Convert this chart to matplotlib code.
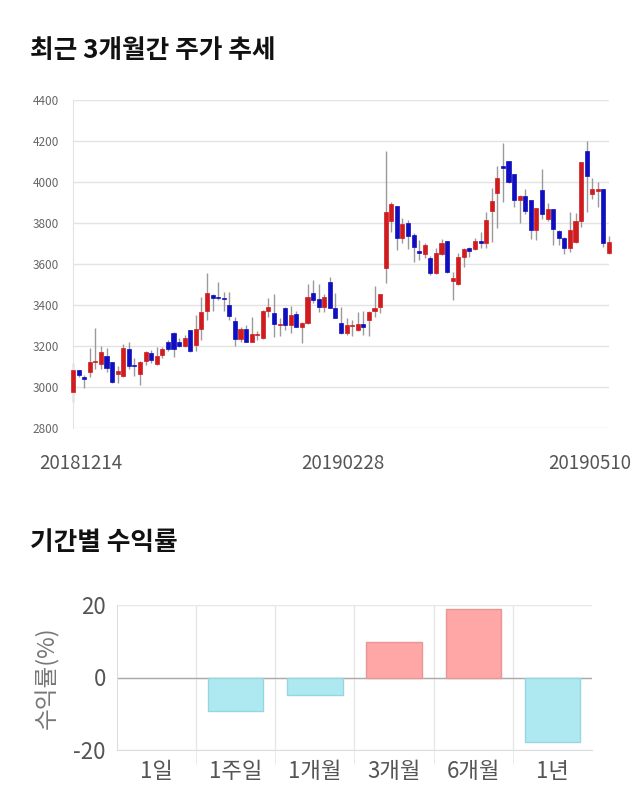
import matplotlib
matplotlib.use("Agg")
import matplotlib.pyplot as plt
import matplotlib.transforms as mtransforms

plt.rcParams['font.family'] = ['Noto Sans CJK KR', 'DejaVu Sans']
plt.rcParams['axes.unicode_minus'] = False

# ===============================
# Dados
# ===============================

opens = [2977, 3083, 3047, 3075, 3120, 3110, 3150, 3120, 3062, 3055,
         3185, 3102, 3062, 3127, 3164, 3111, 3155, 3221, 3262, 3221,
         3200, 3278, 3205, 3281, 3371, 3449, 3437, 3435, 3400, 3322,
         3233, 3283, 3221, 3252, 3237, 3371, 3363, 3300, 3387, 3302,
         3356, 3294, 3311, 3457, 3428, 3389, 3511, 3384, 3311, 3262,
         3296, 3278, 3306, 3327, 3372, 3392, 3579, 3811, 3883, 3725,
         3802, 3741, 3660, 3647, 3628, 3554, 3649, 3712, 3519, 3501,
         3636, 3677, 3672, 3712, 3701, 3860, 3945, 4080, 4102, 4039,
         3912, 3932, 3912, 3766, 3961, 3818, 3867, 3761, 3725, 3676,
         3709, 3810, 4151, 3940, 3958, 3966, 3655]
highs = [3115, 3085, 3059, 3190, 3290, 3200, 3190, 3120, 3102, 3210,
         3218, 3140, 3128, 3176, 3180, 3197, 3197, 3230, 3267, 3238,
         3254, 3280, 3351, 3437, 3558, 3452, 3511, 3465, 3465, 3343,
         3291, 3302, 3340, 3275, 3375, 3433, 3454, 3338, 3392, 3397,
         3369, 3315, 3502, 3522, 3500, 3452, 3535, 3457, 3389, 3338,
         3327, 3364, 3372, 3369, 3493, 3452, 4151, 3901, 3883, 3823,
         3815, 3750, 3717, 3701, 3639, 3676, 3720, 3712, 3563, 3656,
         3677, 3685, 3725, 3758, 3852, 3969, 4080, 4192, 4102, 4039,
         3935, 3966, 3912, 3875, 4062, 3896, 3870, 3766, 3733, 3852,
         3850, 4099, 4202, 4018, 4002, 3966, 3738]
lows = [2928, 3050, 2997, 3050, 3090, 3090, 3075, 3020, 3018, 3047,
        3090, 3055, 3010, 3107, 3115, 3106, 3140, 3177, 3148, 3197,
        3197, 3172, 3177, 3229, 3327, 3372, 3425, 3372, 3327, 3200,
        3221, 3218, 3218, 3230, 3234, 3343, 3246, 3249, 3278, 3262,
        3291, 3213, 3307, 3408, 3367, 3367, 3384, 3335, 3259, 3254,
        3251, 3275, 3254, 3251, 3343, 3363, 3506, 3758, 3668, 3704,
        3672, 3611, 3620, 3628, 3546, 3551, 3644, 3557, 3424, 3498,
        3587, 3636, 3669, 3677, 3677, 3709, 3777, 3901, 3994, 3876,
        3798, 3844, 3720, 3717, 3818, 3810, 3693, 3693, 3649, 3660,
        3701, 3782, 3852, 3915, 3876, 3681, 3649]
closes = [3083, 3060, 3041, 3120, 3125, 3170, 3095, 3025, 3078, 3192,
          3102, 3100, 3124, 3169, 3132, 3153, 3184, 3185, 3185, 3200,
          3241, 3176, 3283, 3367, 3457, 3436, 3435, 3430, 3348, 3233,
          3283, 3221, 3257, 3256, 3372, 3392, 3306, 3304, 3302, 3351,
          3294, 3311, 3437, 3424, 3392, 3441, 3386, 3338, 3262, 3301,
          3300, 3306, 3291, 3364, 3384, 3452, 3852, 3893, 3725, 3795,
          3738, 3685, 3656, 3693, 3554, 3652, 3701, 3562, 3533, 3633,
          3672, 3665, 3712, 3701, 3815, 3907, 4018, 4070, 4002, 3912,
          3932, 3860, 3766, 3872, 3842, 3867, 3769, 3725, 3676, 3766,
          3811, 4099, 4031, 3966, 3966, 3701, 3709]

date_idx = [0, 48, 96]
date_labels = ["20181214", "20190228", "20190510"]

periods = ["1일", "1주일", "1개월", "3개월", "6개월", "1년"]
returns = [0.0, -9.2, -4.8, 9.7, 18.8, -17.7]

# ===============================
# Figura
# ===============================

fig = plt.figure(figsize=(6.4, 8.1), dpi=100)

fig.text(30/640, 1 - 50/810, "최근 3개월간 주가 추세", fontsize=18.5,
         fontweight="bold", va="center", color="#111111")
fig.text(30/640, 1 - 542/810, "기간별 수익률", fontsize=18.5,
         fontweight="bold", va="center", color="#111111")

# --- candles ---
ax1 = fig.add_axes([73/640, 1 - 428/810, 536/640, 328/810])
red = "#d01c1f"
blue = "#0f0fc0"
x = list(range(len(opens)))
ax1.vlines(x, lows, highs, color="#9a9a9a", linewidth=1, zorder=2, clip_on=False)
bottoms = [min(o, c) for o, c in zip(opens, closes)]
heights = [max(abs(c - o), 6) for o, c in zip(opens, closes)]
colors = [red if c >= o else blue for o, c in zip(opens, closes)]
ax1.bar(x, heights, bottom=bottoms, width=0.72, color=colors,
        edgecolor=colors, linewidth=0.5, zorder=3, clip_on=False)

ax1.set_xlim(0, 96)
ax1.set_ylim(2800, 4400)
ax1.set_yticks(range(2800, 4401, 200))
ax1.grid(axis="y", color="#e3e3e3", linewidth=1)
ax1.set_axisbelow(True)
for s in ["top", "right", "bottom"]:
    ax1.spines[s].set_visible(False)
ax1.spines["left"].set_color("#e3e3e3")
ax1.tick_params(axis="y", length=0, pad=10, labelsize=8.5, labelcolor="#666666")
ax1.tick_params(axis="x", length=0, pad=18, labelsize=13.5, labelcolor="#555555")
ax1.set_xticks(date_idx)
ax1.set_xticklabels(date_labels)
shifts = [8, 2, -19]
for lab, dx in zip(ax1.get_xticklabels(), shifts):
    lab.set_transform(lab.get_transform() +
                      mtransforms.ScaledTranslation(dx/100, 0, fig.dpi_scale_trans))

# --- returns ---
ax2 = fig.add_axes([117/640, 1 - 750/810, 475/640, 145/810])
pos = list(range(len(periods)))
bar_colors = ["#ffa6a6" if r > 0 else "#aee9f2" for r in returns]
edge_colors = ["#e89696" if r > 0 else "#95d6e0" for r in returns]
edge_widths = [1 if r != 0 else 0 for r in returns]
ax2.bar(pos, returns, width=0.7, color=bar_colors, edgecolor=edge_colors,
        linewidth=edge_widths, zorder=3)
ax2.set_xlim(-0.5, 5.5)
ax2.set_ylim(-20, 20)
ax2.set_yticks([-20, 0, 20])
ax2.set_xticks(pos)
ax2.set_xticklabels(periods)
ax2.set_xticks([p + 0.5 for p in pos[:-1]], minor=True)
ax2.grid(axis="x", which="minor", color="#e6e6e6", linewidth=1)
ax2.grid(axis="y", which="major", color="#e6e6e6", linewidth=1)
ax2.axhline(0, color="#aaaaaa", linewidth=1, zorder=2)
for s in ["top", "right"]:
    ax2.spines[s].set_visible(False)
ax2.spines["left"].set_color("#dddddd")
ax2.spines["bottom"].set_color("#dddddd")
ax2.tick_params(axis="x", which="major", length=0, pad=7, labelsize=16,
                labelcolor="#555555")
ax2.tick_params(axis="x", which="minor", length=10, color="#e6e6e6")
ax2.tick_params(axis="y", length=0, pad=8, labelsize=16, labelcolor="#555555")
ax2.set_ylabel("수익률(%)", fontsize=17, color="#777777", labelpad=10)
ax2.set_axisbelow(True)

fig.savefig("out.png", dpi=100, facecolor="white")
